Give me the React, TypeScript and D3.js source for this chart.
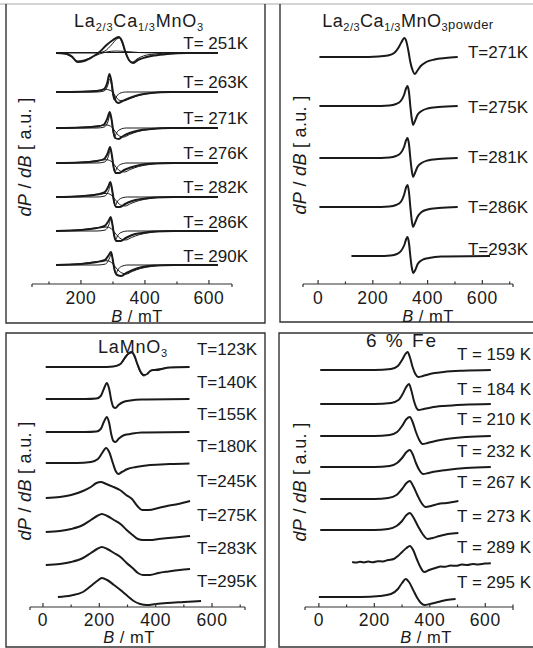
import React from "react";
import * as d3 from "d3";

type Pt = [number, number];

// ---------------- Panel A : La2/3Ca1/3MnO3 ----------------
const aLabels = ["T= 251K", "T= 263K", "T= 271K", "T= 276K", "T= 282K", "T= 286K", "T= 290K"];
const aOffsets = [231, 192, 156, 121, 87, 53, 19];
const aTotal: Pt[][] = [
  [[122,0],[150,-0.5],[170,-3],[190,-9],[210,-8],[235,-4],[258,1],[280,8],[300,13],[318,16],[328,12],[338,2],[350,-7],[362,-10],[378,-7],[400,-4.5],[430,-2.5],[470,-1],[530,0],[628,0]],
  [[122,0],[200,0.3],[250,1],[272,3],[282,9],[289,18],[295,11],[300,0],[307,-8],[316,-11],[330,-9],[352,-6],[380,-3],[420,-1],[480,0],[628,0]],
  [[122,0],[200,0.5],[250,1.5],[272,3.5],[283,10],[290,16],[296,8],[301,-3],[307,-10],[318,-11],[332,-8],[352,-5],[380,-2.5],[420,-1],[480,0],[628,0]],
  [[122,0],[200,0.5],[250,2],[272,4],[284,10],[291,16],[297,7],[302,-4],[309,-10],[320,-10],[335,-7],[355,-4.5],[385,-2],[430,-0.5],[490,0],[628,0]],
  [[122,0],[200,0.8],[250,2.5],[273,4.5],[285,10],[292,15],[298,6],[303,-4],[310,-10],[322,-10],[338,-7],[360,-4],[390,-2],[430,-0.5],[490,0],[628,0]],
  [[122,0],[200,1],[250,3],[274,5],[286,10],[293,14],[299,5],[304,-5],[311,-10],[324,-10],[340,-7],[360,-4],[390,-2],[430,-0.5],[490,0],[628,0]],
  [[122,0],[200,1],[250,3],[275,5],[287,10],[294,13],[300,4],[305,-5],[313,-10],[326,-11],[342,-8],[362,-5],[392,-2],[430,-0.5],[490,0],[628,0]],
];
const aNarrow: Pt[][] = [
  [[122,0],[250,0],[275,2],[295,8],[312,14],[320,15],[330,9],[340,-1],[352,-8],[362,-9],[375,-6],[395,-3],[430,-1],[480,0],[628,0]],
  [[122,0],[250,0],[272,1],[283,6],[290,13],[295,8],[299,-2],[304,-8],[310,-5],[320,-1.5],[340,0],[628,0]],
  [[122,0],[250,0],[273,1],[284,6],[291,13],[296,7],[300,-3],[305,-9],[311,-5],[322,-1.5],[342,0],[628,0]],
  [[122,0],[250,0],[274,1],[285,6],[292,13],[297,7],[301,-3],[306,-9],[312,-5],[323,-1.5],[344,0],[628,0]],
  [[122,0],[250,0],[275,1],[286,6],[293,12],[298,6],[302,-3],[307,-9],[313,-5],[324,-1.5],[345,0],[628,0]],
  [[122,0],[250,0],[276,1],[287,6],[294,12],[299,6],[303,-3],[308,-9],[314,-5],[325,-1.5],[346,0],[628,0]],
  [[122,0],[250,0],[277,1],[288,6],[295,11],[300,5],[304,-3],[309,-9],[315,-5],[326,-1.5],[347,0],[628,0]],
];
const aBroad: Pt[][] = [
  [[122,0],[150,-1],[170,-4],[190,-8],[210,-7],[235,-4],[258,-1],[280,1],[310,2],[340,1.5],[380,0.5],[450,0],[628,0]],
  [[122,0],[200,0.5],[250,1.5],[280,2.5],[295,1],[305,-3],[318,-8],[332,-9],[350,-7],[375,-4],[410,-1.5],[460,0],[628,0]],
  [[122,0],[200,0.7],[250,2],[280,3],[296,1],[306,-3],[320,-8],[334,-9],[352,-6.5],[378,-3.5],[412,-1.5],[462,0],[628,0]],
  [[122,0],[200,0.8],[250,2.3],[280,3.3],[297,1],[307,-3],[322,-8],[336,-9],[354,-6.5],[380,-3.5],[414,-1.5],[465,0],[628,0]],
  [[122,0],[200,1],[250,2.8],[281,3.6],[298,1],[308,-3],[324,-8],[338,-9],[356,-6.5],[382,-3.5],[416,-1.5],[468,0],[628,0]],
  [[122,0],[200,1.2],[250,3.2],[282,4],[299,1],[309,-3],[326,-8],[340,-9],[358,-6.5],[384,-3.5],[418,-1.5],[470,0],[628,0]],
  [[122,0],[200,1.3],[250,3.5],[283,4.3],[300,1],[310,-3],[328,-8],[342,-9],[360,-6.5],[386,-3.5],[420,-1.5],[472,0],[628,0]],
];
const aFlat: Pt[] = [[122,0.5],[628,0.5]];

// ---------------- Panel B : La2/3Ca1/3MnO3 powder ----------------
const bLabels = ["T=271K", "T=275K", "T=281K", "T=286K", "T=293K"];
const bOffsets = [227, 178, 126, 77, 28];
const bSpectra: Pt[][] = [
  [[5,0],[150,0],[220,0.5],[255,1.5],[278,4],[293,9],[305,15],[315,19],[322,16],[330,6],[337,-5],[345,-13],[353,-17],[362,-14],[375,-9],[395,-5],[425,-2.5],[465,-1],[510,0]],
  [[5,0],[200,0],[260,0.5],[285,2],[302,5],[314,11],[322,18],[327,20],[332,14],[337,0],[342,-12],[347,-19],[354,-15],[363,-9],[378,-5],[400,-2.5],[440,-1],[510,0]],
  [[5,0],[200,0],[260,0.5],[285,2],[302,5],[314,11],[322,18],[327,20],[332,14],[337,0],[342,-12],[347,-19],[354,-15],[363,-9],[378,-5],[400,-2.5],[440,-1],[510,0]],
  [[5,0],[200,0],[260,0.5],[285,2],[302,5],[314,12],[322,20],[327,22],[332,15],[337,0],[342,-13],[347,-20],[354,-16],[363,-10],[378,-5],[400,-2.5],[440,-1],[510,0]],
  [[122,0],[220,0],[265,0.5],[288,2],[303,5],[315,11],[322,17],[327,19],[332,13],[337,0],[342,-11],[348,-17],[355,-14],[364,-8],[380,-4],[405,-2],[450,-0.5],[628,0]],
];

// ---------------- Panel C : LaMnO3 ----------------
const cLabels = ["T=123K", "T=140K", "T=155K", "T=180K", "T=245K", "T=275K", "T=283K", "T=295K"];
const cOffsets = [240, 208, 175, 144, 109, 75, 42, 10];
const cSpectra: Pt[][] = [
  [[10,0],[200,0],[250,0.5],[275,3],[290,9],[305,14],[315,15],[325,11],[335,3],[345,-4],[358,-8],[370,-7],[380,-4],[392,-3],[405,-3],[420,-2],[450,-0.5],[520,0]],
  [[10,0],[150,0],[190,0.5],[205,3],[216,10],[227,16],[235,10],[243,-2],[250,-8],[257,-9],[268,-6],[285,-3],[310,-1.5],[350,-0.5],[520,0]],
  [[10,0],[150,0],[190,0.5],[205,3],[216,10],[227,15],[235,9],[243,-3],[250,-9],[257,-10],[268,-7],[285,-3.5],[310,-2],[350,-0.5],[520,0]],
  [[10,0],[120,0],[170,1],[195,4],[210,10],[224,15],[235,11],[248,0],[258,-8],[267,-11],[280,-9],[300,-6],[330,-4],[380,-2],[450,-1],[520,-0.5]],
  [[10,0],[60,1],[100,3],[142,7],[170,11],[190,15],[205,16],[225,14],[250,11],[273,8],[295,3],[316,-1],[335,-8],[352,-12],[375,-12],[410,-10],[440,-8],[480,-6],[522,-3]],
  [[10,0],[60,1],[100,3],[142,7],[170,12],[192,16],[209,18],[228,16],[252,12],[275,8],[297,2],[318,-3],[337,-7],[355,-8],[380,-8],[410,-7],[445,-6],[485,-5],[522,-4]],
  [[10,0],[60,1],[100,3],[142,7],[170,12],[192,16],[209,18],[228,16],[252,12],[275,8],[297,2],[318,-3],[337,-8],[355,-10],[380,-10],[410,-8],[445,-6.5],[485,-5],[522,-4]],
  [[53,0],[100,1.5],[142,5],[170,11],[192,16],[209,19],[228,17],[252,12],[275,7],[300,1],[322,-4],[345,-7],[369,-8],[400,-7],[440,-6],[500,-5],[561,-4]],
];
const cFit123: Pt[] = [[10,0],[200,0],[250,0.5],[275,2.5],[290,8],[305,13],[315,14],[325,10],[335,2],[345,-5],[358,-9],[372,-6],[390,-3],[420,-1.5],[460,-0.3],[520,0]];

// ---------------- Panel D : 6 % Fe ----------------
const dLabels = ["T = 159 K", "T = 184 K", "T = 210 K", "T = 232 K", "T = 267 K", "T = 273 K", "T = 289 K", "T = 295 K"];
const dOffsets = [237, 203, 171, 140, 108, 77, 45, 10];
const dSpectra: Pt[][] = [
  [[5,0],[200,0],[260,1],[285,4],[300,10],[312,16],[320,18],[328,13],[338,3],[348,-4],[358,-7],[375,-6],[400,-4],[450,-2],[520,-0.7],[620,0]],
  [[5,0],[200,0],[260,1],[287,4],[302,10],[315,17],[325,20],[333,14],[343,3],[352,-4],[360,-6],[378,-5],[405,-3.5],[450,-2],[520,-0.7],[620,0]],
  [[5,0],[200,0],[255,1],[282,4],[300,10],[316,17],[328,19],[338,14],[350,4],[362,-4],[374,-8],[392,-7],[420,-5],[460,-3],[530,-1],[620,0]],
  [[5,0],[200,0],[255,1],[282,4],[300,9],[316,15],[328,17],[338,13],[350,4],[362,-3],[376,-7],[395,-6],[420,-4.5],[460,-3],[530,-1],[620,0]],
  [[5,0],[200,0],[250,1],[280,4],[300,10],[316,16],[328,18],[340,13],[355,4],[370,-4],[385,-8],[405,-7],[430,-5],[460,-4],[503,-2]],
  [[5,0],[200,0],[250,1],[280,4],[300,9],[316,15],[328,17],[340,13],[357,4],[374,-4],[392,-9],[410,-8],[435,-6],[465,-4],[503,-3]],
  [[120,0],[135,-0.6],[148,0.3],[162,-0.4],[178,0.4],[195,-0.2],[212,0.8],[230,0.6],[250,2],[270,3],[285,6],[300,10],[316,14],[328,16],[340,12],[353,3],[366,-5],[380,-10],[398,-8],[420,-6],[440,-4.5],[455,-4.8],[475,-3.5],[495,-3.8],[515,-2.6],[535,-3],[555,-2],[575,-2.4],[598,-1.6],[620,-1.2]],
  [[0,0],[150,0],[220,1],[260,3],[285,8],[300,14],[313,18],[325,15],[340,7],[355,-1],[368,-6],[381,-8],[400,-7],[430,-5],[460,-3],[493,-2]],
];

// ---------------- layout ----------------
const FONT = "'Liberation Sans', Arial, Helvetica, sans-serif";
const INK = "#1a1a1a";
const FRAME = "#333";

type Curve = { pts: Pt[]; w: number };
type PanelCfg = {
  frame: [number, number, number, number];
  openTop: boolean;
  xDomain: [number, number];
  xRange: [number, number];
  axisY: number;
  tickDy: number;
  xLabelDy: number;
  major: number[];
  minor: number[];
  offsets: number[];
  curves: Curve[][];
  labels: string[];
  labelX: number;
  labelShift: number[];
  xLabelX: number;
  yLabel: [number, number];
};

function Panel({ cfg, title }: { cfg: PanelCfg; title: React.ReactNode }) {
  const x = d3.scaleLinear().domain(cfg.xDomain).range(cfg.xRange);
  const y = d3.scaleLinear().domain([0, 300]).range([cfg.axisY, cfg.axisY - 300]);
  const [fx, fy, fw, fh] = cfg.frame;
  const framePath = cfg.openTop
    ? `M${fx},${fy}V${fy + fh}H${fx + fw}V${fy}`
    : `M${fx},${fy}H${fx + fw}V${fy + fh}H${fx}Z`;
  return (
    <g>
      <path d={framePath} fill="none" stroke={FRAME} strokeWidth={1.4} />
      {title}
      {cfg.curves.map((cs, i) =>
        cs.map((c, j) => {
          const line = d3
            .line<Pt>()
            .x((d) => x(d[0]))
            .y((d) => y(cfg.offsets[i] + d[1]))
            .curve(d3.curveMonotoneX);
          return <path key={i + "-" + j} d={line(c.pts) || ""} fill="none" stroke={INK} strokeWidth={c.w} strokeLinejoin="round" />;
        })
      )}
      {cfg.labels.map((t, i) => (
        <text key={t} x={cfg.labelX} y={y(cfg.offsets[i] + cfg.labelShift[i])} textAnchor="end" fontSize={17} fontFamily={FONT} fill={INK}>
          {t}
        </text>
      ))}
      <line x1={cfg.xRange[0]} x2={cfg.xRange[1]} y1={cfg.axisY} y2={cfg.axisY} stroke={FRAME} strokeWidth={1.2} />
      <line x1={cfg.xRange[0]} x2={cfg.xRange[0]} y1={cfg.axisY} y2={cfg.axisY + 3} stroke={FRAME} strokeWidth={1.2} />
      <line x1={cfg.xRange[1]} x2={cfg.xRange[1]} y1={cfg.axisY} y2={cfg.axisY + 3} stroke={FRAME} strokeWidth={1.2} />
      {cfg.major.map((t) => (
        <g key={"M" + t}>
          <line x1={x(t)} x2={x(t)} y1={cfg.axisY} y2={cfg.axisY - 4} stroke={FRAME} strokeWidth={1.2} />
          <text x={x(t)} y={cfg.axisY + cfg.tickDy} textAnchor="middle" fontSize={17.5} letterSpacing={0.6} fontFamily={FONT} fill={INK}>
            {t}
          </text>
        </g>
      ))}
      {cfg.minor.map((t) => (
        <line key={"m" + t} x1={x(t)} x2={x(t)} y1={cfg.axisY} y2={cfg.axisY - 2.5} stroke={FRAME} strokeWidth={1.2} />
      ))}
      <text x={cfg.xLabelX} y={cfg.axisY + cfg.xLabelDy} textAnchor="middle" fontSize={16.5} letterSpacing={0.5} fontFamily={FONT} fill={INK}>
        <tspan fontStyle="italic">B</tspan> / mT
      </text>
      <text
        transform={`translate(${cfg.yLabel[0]},${cfg.yLabel[1]}) rotate(-90)`}
        textAnchor="middle"
        fontSize={18}
        letterSpacing={0.3}
        fontFamily={FONT}
        fill={INK}
        dy="0.35em"
      >
        <tspan fontStyle="italic">dP</tspan> / <tspan fontStyle="italic">dB</tspan> [ a.u. ]
      </text>
    </g>
  );
}

const thick = 2;
const thin = 1;

export default function App() {
  const panelA: PanelCfg = {
    frame: [6, 4, 259, 319],
    openTop: true,
    xDomain: [47, 672],
    xRange: [32, 232],
    axisY: 284,
    tickDy: 19.5,
    xLabelDy: 37.5,
    major: [200, 400, 600],
    minor: [100, 300, 500],
    offsets: aOffsets,
    curves: aTotal.map((t, i) => {
      const arr: Curve[] = [
        { pts: aBroad[i], w: thin },
        { pts: aNarrow[i], w: thin },
        { pts: t, w: thick },
      ];
      if (i === 0) arr.unshift({ pts: aFlat, w: thin });
      return arr;
    }),
    labels: aLabels,
    labelX: 248,
    labelShift: [4, 4, 4, 4, 4, 3, 3],
    xLabelX: 137,
    yLabel: [25, 157],
  };
  const panelB: PanelCfg = {
    frame: [280, 4, 270, 318],
    openTop: true,
    xDomain: [-55, 712],
    xRange: [303, 513],
    axisY: 284,
    tickDy: 19.5,
    xLabelDy: 37.5,
    major: [0, 200, 400, 600],
    minor: [100, 300, 500, 700],
    offsets: bOffsets,
    curves: bSpectra.map((s) => [{ pts: s, w: thick }]),
    labels: bLabels,
    labelX: 528,
    labelShift: [-1, -7, -5, -6, 1],
    xLabelX: 428,
    yLabel: [300, 155],
  };
  const panelC: PanelCfg = {
    frame: [6, 333, 259, 314],
    openTop: false,
    xDomain: [-46, 717],
    xRange: [30, 245],
    axisY: 607,
    tickDy: 18.5,
    xLabelDy: 36,
    major: [0, 200, 400, 600],
    minor: [100, 300, 500, 700],
    offsets: cOffsets,
    curves: cSpectra.map((s, i) => (i === 0 ? [{ pts: cFit123, w: thin }, { pts: s, w: thick }] : [{ pts: s, w: thick }])),
    labels: cLabels,
    labelX: 257,
    labelShift: [12, 11, 12, 11, 11, 11, 11, 10],
    xLabelX: 129,
    yLabel: [25, 481],
  };
  const panelD: PanelCfg = {
    frame: [279, 333, 270, 314],
    openTop: false,
    xDomain: [-50, 700],
    xRange: [305, 513],
    axisY: 607,
    tickDy: 18.5,
    xLabelDy: 36,
    major: [0, 200, 400, 600],
    minor: [100, 300, 500, 700],
    offsets: dOffsets,
    curves: dSpectra.map((s) => [{ pts: s, w: thick }]),
    labels: dLabels,
    labelX: 531,
    labelShift: [10, 9, 11, 10, 11, 8, 9, 9],
    xLabelX: 426,
    yLabel: [300, 482],
  };

  const sub = (t: string) => (
    <tspan fontSize={11} dy={4}>
      {t}
    </tspan>
  );
  const up = (t: string) => <tspan dy={-4}>{t}</tspan>;

  return (
    <svg width={533} height={648} style={{ position: "absolute", left: 0, top: 0, background: "#fff" }}>
      <rect x={0} y={0} width={533} height={648} fill="#fff" />
      <line x1={0} x2={533} y1={4} y2={4} stroke="#aaa" strokeWidth={1} />
      <Panel
        cfg={panelA}
        title={
          <text x={139} y={27} textAnchor="middle" fontSize={18} letterSpacing={0.8} fontFamily={FONT} fill={INK}>
            La{sub("2/3")}
            {up("Ca")}
            {sub("1/3")}
            {up("MnO")}
            {sub("3")}
          </text>
        }
      />
      <Panel
        cfg={panelB}
        title={
          <text x={408} y={27} textAnchor="middle" fontSize={18} letterSpacing={0.5} fontFamily={FONT} fill={INK}>
            La{sub("2/3")}
            {up("Ca")}
            {sub("1/3")}
            {up("MnO")}
            {sub("3")}
            <tspan fontSize={13} dy={-2}>powder</tspan>
          </text>
        }
      />
      <Panel
        cfg={panelC}
        title={
          <text x={133} y={353} textAnchor="middle" fontSize={18} letterSpacing={0.8} fontFamily={FONT} fill={INK}>
            LaMnO{sub("3")}
          </text>
        }
      />
      <Panel
        cfg={panelD}
        title={
          <text x={402} y={347} textAnchor="middle" fontSize={19} letterSpacing={2} fontFamily={FONT} fill={INK}>
            6 % Fe
          </text>
        }
      />
    </svg>
  );
}
